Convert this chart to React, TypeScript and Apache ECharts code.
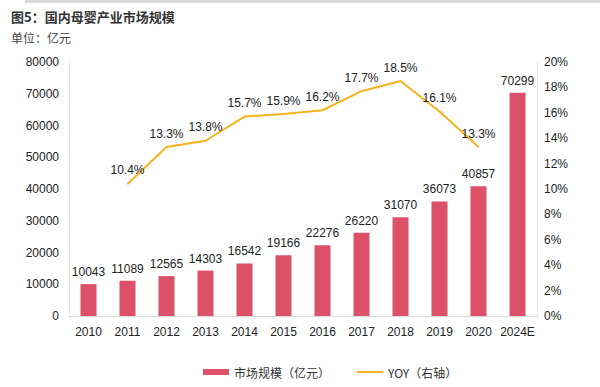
import React, { useEffect, useRef } from "react";
import * as echarts from "echarts";

const categories = ["2010", "2011", "2012", "2013", "2014", "2015", "2016", "2017", "2018", "2019", "2020", "2024E"];
const marketSize = [10043, 11089, 12565, 14303, 16542, 19166, 22276, 26220, 31070, 36073, 40857, 70299];
const yoy: (number | null)[] = [null, 10.4, 13.3, 13.8, 15.7, 15.9, 16.2, 17.7, 18.5, 16.1, 13.3, null];

const FONT = "Liberation Sans, Arial, sans-serif";
const CJK = "'Noto Sans CJK SC', sans-serif";

export default function App() {
  const ref = useRef<HTMLDivElement>(null);
  useEffect(() => {
    const chart = echarts.init(ref.current!, null, { renderer: "svg" });
    chart.setOption({
      animation: false,
      backgroundColor: "#fff",
      textStyle: { fontFamily: FONT },
      graphic: [
        { type: "rect", shape: { x: 25, y: 0, width: 575, height: 3 }, style: { fill: "#d9d9d9" } },
        {
          type: "text", left: 11, top: 10,
          style: { text: "图5：国内母婴产业市场规模", font: "bold 13px " + CJK, fill: "#333" },
        },
        {
          type: "text", left: 11, top: 31,
          style: { text: "单位：亿元", font: "12px " + CJK, fill: "#444" },
        },
      ],
      legend: {
        top: 361,
        left: 198,
        itemGap: 26,
        itemWidth: 26,
        itemHeight: 6,
        textStyle: { fontSize: 12, color: "#333", fontFamily: CJK },
        data: [
          { name: "市场规模（亿元）", icon: "rect" },
          { name: "YOY（右轴）", itemStyle: { opacity: 0 }, lineStyle: { color: "#F7B21E", width: 2 } },
        ],
      },
      grid: { left: 69, right: 63, top: 62, bottom: 71, containLabel: false },
      xAxis: {
        type: "category",
        data: categories,
        axisLine: { lineStyle: { color: "#d9d9d9" } },
        axisTick: { show: false },
        axisLabel: { color: "#222", fontSize: 12, margin: 10, interval: 0 },
      },
      yAxis: [
        {
          type: "value", min: 0, max: 80000, interval: 10000,
          axisLine: { show: true, lineStyle: { color: "#e6e6e6" } },
          axisTick: { show: false },
          splitLine: { show: false },
          axisLabel: { color: "#222", fontSize: 12, margin: 10, formatter: (v: number) => String(v) },
        },
        {
          type: "value", min: 0, max: 20, interval: 2,
          axisLine: { show: true, lineStyle: { color: "#e6e6e6" } },
          axisTick: { show: false },
          splitLine: { show: false },
          axisLabel: { color: "#222", fontSize: 12, margin: 7, formatter: "{value}%" },
        },
      ],
      series: [
        {
          name: "市场规模（亿元）",
          type: "bar",
          data: marketSize,
          barWidth: 16,
          itemStyle: { color: "#DC5068" },
          label: { show: true, position: "top", color: "#222", fontSize: 12, distance: 6 },
        },
        {
          name: "YOY（右轴）",
          type: "line",
          yAxisIndex: 1,
          data: yoy,
          symbol: "circle",
          symbolSize: 1,
          showSymbol: true,
          lineStyle: { color: "#F7B21E", width: 2 },
          itemStyle: { color: "#F7B21E" },
          label: {
            show: true, position: "top", color: "#222", fontSize: 12, distance: 7,
            formatter: (p: any) => (p.value == null ? "" : Number(p.value).toFixed(1) + "%"),
          },
        },
      ],
    });
    return () => chart.dispose();
  }, []);
  return <div ref={ref} style={{ position: "absolute", left: 0, top: 0, width: 600, height: 387 }} />;
}
